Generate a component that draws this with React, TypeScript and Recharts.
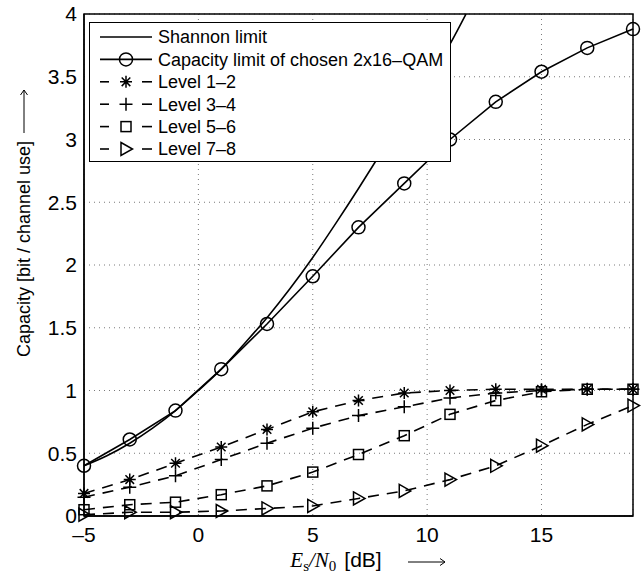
import React from "react";
import { CartesianGrid, Legend, Line, LineChart, ReferenceArea, XAxis, YAxis } from "recharts";

// E_s/N_0 points where the levels were evaluated [dB]
const snrDb = [-5, -3, -1, 1, 3, 5, 7, 9, 11, 13, 15, 17, 19];

const shannonDb = [-5, -4, -3, -2, -1, 0, 1, 2, 3, 4, 5, 6, 7, 8, 9, 10, 11, 11.7];
const shannonCap = [0.4, 0.48, 0.58, 0.7, 0.84, 1.0, 1.17, 1.37, 1.58, 1.81, 2.06, 2.33, 2.61, 2.9, 3.19, 3.46, 3.76, 4.0];

const qamCap = [0.4, 0.61, 0.84, 1.17, 1.53, 1.91, 2.3, 2.65, 3.0, 3.3, 3.54, 3.73, 3.88];
const level12 = [0.18, 0.29, 0.42, 0.55, 0.69, 0.83, 0.92, 0.98, 1.0, 1.01, 1.01, 1.01, 1.01];
const level34 = [0.15, 0.23, 0.32, 0.45, 0.58, 0.7, 0.8, 0.87, 0.94, 0.98, 1.0, 1.01, 1.01];
const level56 = [0.05, 0.09, 0.11, 0.17, 0.24, 0.35, 0.49, 0.64, 0.81, 0.92, 0.99, 1.01, 1.01];
const level78 = [0.01, 0.03, 0.03, 0.04, 0.06, 0.08, 0.14, 0.2, 0.29, 0.4, 0.56, 0.73, 0.88];

const xTicks = [-5, 0, 5, 10, 15];
const yTicks = [0, 0.5, 1, 1.5, 2, 2.5, 3, 3.5, 4];

type MarkerKind = "none" | "circle" | "star" | "plus" | "square" | "triangle";

interface SeriesDef {
  key: string;
  name: string;
  marker: MarkerKind;
  dashed: boolean;
  xs: number[];
  ys: number[];
}

const SERIES: SeriesDef[] = [
  { key: "shannon", name: "Shannon limit", marker: "none", dashed: false, xs: shannonDb, ys: shannonCap },
  { key: "qam", name: "Capacity limit of chosen 2x16\u2013QAM", marker: "circle", dashed: false, xs: snrDb, ys: qamCap },
  { key: "l12", name: "Level 1\u20132", marker: "star", dashed: true, xs: snrDb, ys: level12 },
  { key: "l34", name: "Level 3\u20134", marker: "plus", dashed: true, xs: snrDb, ys: level34 },
  { key: "l56", name: "Level 5\u20136", marker: "square", dashed: true, xs: snrDb, ys: level56 },
  { key: "l78", name: "Level 7\u20138", marker: "triangle", dashed: true, xs: snrDb, ys: level78 },
];

const W = 641;
const H = 577;
const Y_AXIS_W = 84;
const X_AXIS_H = 61;
const MARGIN = { top: 14, right: 8, left: 0, bottom: 0 };
const SANS = "'Liberation Sans', Arial, Helvetica, sans-serif";
const SERIF = "'Liberation Serif', 'Times New Roman', serif";

function Marker({ kind, x, y }: { kind: MarkerKind; x: number; y: number }) {
  const st = { stroke: "#000", strokeWidth: 1.5, fill: "none" };
  switch (kind) {
    case "circle":
      return <circle cx={x} cy={y} r={6.5} {...st} />;
    case "star":
      return (
        <path
          d={`M${x - 6},${y}H${x + 6}M${x},${y - 6}V${y + 6}M${x - 4.3},${y - 4.3}L${x + 4.3},${y + 4.3}M${x - 4.3},${y + 4.3}L${x + 4.3},${y - 4.3}`}
          {...st}
        />
      );
    case "plus":
      return <path d={`M${x - 6.5},${y}H${x + 6.5}M${x},${y - 6.5}V${y + 6.5}`} {...st} />;
    case "square":
      return <rect x={x - 5} y={y - 5} width={10} height={10} {...st} />;
    case "triangle":
      return <polygon points={`${x - 5},${y - 6.5} ${x + 6.5},${y} ${x - 5},${y + 6.5}`} {...st} />;
    default:
      return null;
  }
}

const makeDot = (kind: MarkerKind) => (p: any) => (
  <g key={`${kind}-${p.index}`}>
    <Marker kind={kind} x={p.cx} y={p.cy} />
  </g>
);

function LegendBox() {
  return (
    <div
      style={{
        width: 362,
        height: 140,
        background: "#fff",
        border: "1px solid #000",
        boxSizing: "border-box",
      }}
    >
      <svg width={360} height={138} style={{ display: "block" }}>
        {SERIES.map((s, i) => {
          const y = 14 + i * 22.4;
          return (
            <g key={s.key}>
              {s.dashed ? (
                <>
                  <line x1={10} x2={19} y1={y} y2={y} stroke="#000" strokeWidth={1.6} />
                  <line x1={52} x2={62} y1={y} y2={y} stroke="#000" strokeWidth={1.6} />
                </>
              ) : (
                <line x1={10} x2={62} y1={y} y2={y} stroke="#000" strokeWidth={1.6} />
              )}
              <Marker kind={s.marker} x={36} y={y} />
              <text x={68} y={y} dy="0.36em" fontSize={18} fontFamily={SANS} fill="#000">
                {s.name}
              </text>
            </g>
          );
        })}
      </svg>
    </div>
  );
}

function XTitle() {
  return (
    <g>
      <text x={336} y={567} textAnchor="middle" fontSize={21} fill="#000">
        <tspan fontFamily={SERIF} fontStyle="italic">E</tspan>
        <tspan fontFamily={SERIF} fontSize={15} dy={4}>s</tspan>
        <tspan fontFamily={SERIF} fontStyle="italic" dy={-4}>/N</tspan>
        <tspan fontFamily={SERIF} fontSize={15} dy={4}>0</tspan>
        <tspan fontFamily={SANS} dy={-4} dx={8}>[dB]</tspan>
      </text>
      <line x1={408} x2={445} y1={562} y2={562} stroke="#000" strokeWidth={1} />
      <polyline points="440,558.5 445,562 440,565.5" stroke="#000" strokeWidth={1} fill="none" />
    </g>
  );
}

function YTitle() {
  return (
    <g>
      <text
        transform="translate(30,249) rotate(-90)"
        textAnchor="middle"
        fontSize={18}
        fontFamily={SANS}
        fill="#000"
      >
        Capacity [bit / channel use]
      </text>
      <line x1={24} x2={24} y1={133} y2={90} stroke="#000" strokeWidth={1} />
      <polyline points="20.5,95 24,90 27.5,95" stroke="#000" strokeWidth={1} fill="none" />
    </g>
  );
}

const fmtX = (v: number) => (v < 0 ? `\u2013${Math.abs(v)}` : `${v}`);

export default function App() {
  return (
    <div style={{ position: "absolute", left: 0, top: 0, width: W, height: H, background: "#fff", fontFamily: SANS }}>
      <LineChart width={W} height={H} margin={MARGIN}>
        <CartesianGrid stroke="#7a7a7a" strokeDasharray="1 4" />
        {/* axes box drawn as an unfilled area over the whole domain */}
        <ReferenceArea
          x1={-5}
          x2={19}
          y1={0}
          y2={4}
          ifOverflow="visible"
          fill="none"
          fillOpacity={0}
          stroke="#000"
          strokeWidth={1.5}
        />
        <XAxis
          type="number"
          dataKey="x"
          domain={[-5, 19]}
          ticks={xTicks}
          height={X_AXIS_H}
          tickSize={6}
          tickMargin={5}
          tickLine={false}
          axisLine={{ stroke: "#000", strokeWidth: 1.3 }}
          tickFormatter={fmtX}
          tick={{ fontSize: 21, fill: "#000", fontFamily: SANS }}
          label={<XTitle />}
        />
        <YAxis
          type="number"
          domain={[0, 4]}
          ticks={yTicks}
          width={Y_AXIS_W}
          tickSize={6}
          tickMargin={1}
          tickLine={false}
          axisLine={{ stroke: "#000", strokeWidth: 1.3 }}
          tick={{ fontSize: 21, fill: "#000", fontFamily: SANS }}
          label={<YTitle />}
        />
        {SERIES.map((s) => (
          <Line
            key={s.key}
            name={s.name}
            data={s.xs.map((x, i) => ({ x, y: s.ys[i] }))}
            dataKey="y"
            type={s.marker === "none" ? "monotone" : "linear"}
            stroke="#000"
            strokeWidth={1.6}
            strokeDasharray={s.dashed ? "11 8" : undefined}
            dot={s.marker === "none" ? false : makeDot(s.marker)}
            activeDot={false}
            isAnimationActive={false}
          />
        ))}
        <Legend
          layout="horizontal"
          align="center"
          verticalAlign="middle"
          content={<LegendBox />}
          wrapperStyle={{ left: 89, top: 22, width: 362, height: 140 }}
        />
      </LineChart>
    </div>
  );
}
